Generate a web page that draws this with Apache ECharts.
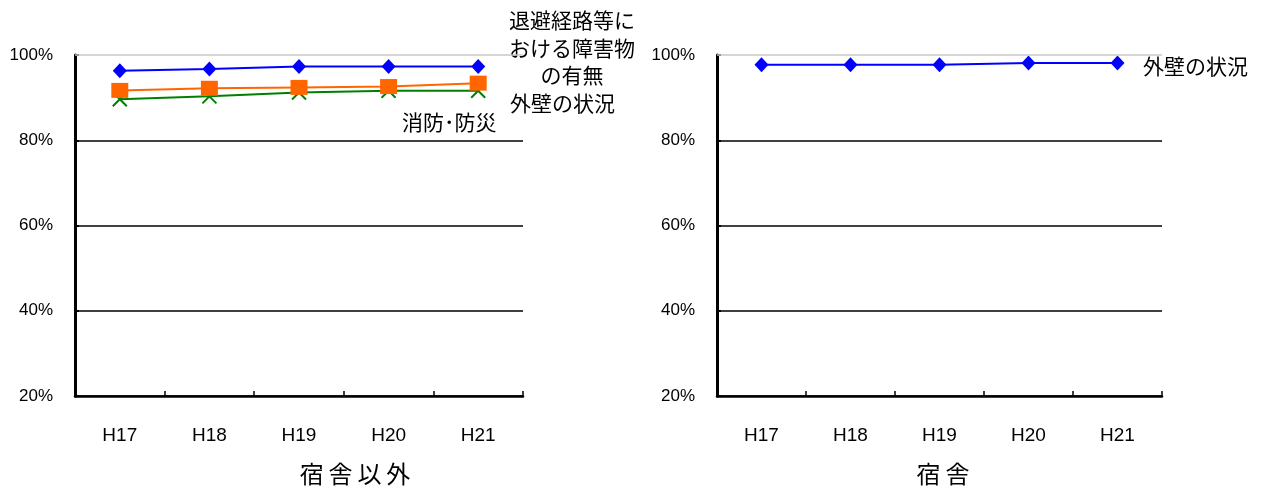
<!DOCTYPE html>
<html>
<head>
<meta charset="utf-8">
<script src="https://cdn.jsdelivr.net/npm/echarts@6/dist/echarts.min.js"></script>
<style>
  html, body { margin: 0; padding: 0; background: #fff; }
  #chart { width: 1263px; height: 488px; }
</style>
</head>
<body>
<div id="chart"></div>
<script>
// Fiscal years on the horizontal axis
const categories = ['H17', 'H18', 'H19', 'H20', 'H21'];

// Compliance rates (%), non-dormitory buildings
const outerWall = [96.3, 96.7, 97.3, 97.3, 97.3];     // 外壁の状況
const evacRoute = [91.7, 92.2, 92.4, 92.6, 93.4];     // 退避経路等における障害物の有無
const fireSafety = [89.6, 90.3, 91.2, 91.6, 91.6];    // 消防・防災

// Compliance rates (%), dormitories
const dormOuterWall = [97.7, 97.7, 97.7, 98.1, 98.1]; // 外壁の状況

// Series names and their on-chart labels
const seriesNames = ['外壁の状況', '退避経路等における障害物の有無', '消防・防災'];
const evacLabelLines = ['退避経路等に', 'おける障害物', 'の有無'];
const fireLabel = '消防･防災';

// Panel captions
const panelTitles = ['宿舎以外', '宿舎'];

// Value axis range
const yMin = 20, yMax = 100, yStep = 20;

const FONT = "'Liberation Sans', 'Noto Sans CJK JP', sans-serif";
const CJK = "'Noto Sans CJK JP', sans-serif";
const BLUE = '#0000FF', ORANGE = '#FF6600', GREEN = '#008000';
const crossPath = 'path://M0,0L10,10M10,0L0,10';

function spaced(s) { return s.split('').join('\u2009'); }

function xAxisFor(gridIndex) {
  return {
    type: 'category', gridIndex: gridIndex, data: categories, boundaryGap: true,
    axisLine: { lineStyle: { color: '#000', width: 2.5 } },
    axisTick: { show: true, inside: true, length: 5, interval: 0, lineStyle: { color: '#000', width: 1.5 } },
    axisLabel: { color: '#000', fontSize: 19, fontFamily: FONT, margin: 30, interval: 0 },
    splitLine: { show: false }
  };
}
function yAxisFor(gridIndex) {
  return {
    type: 'value', gridIndex: gridIndex, min: yMin, max: yMax, interval: yStep,
    axisLine: { show: true, lineStyle: { color: '#000', width: 3 } },
    axisTick: { show: true, inside: true, length: 4, lineStyle: { color: '#000', width: 2 } },
    axisLabel: { color: '#000', fontSize: 17, fontFamily: FONT, margin: 22, formatter: '{value}%' },
    splitLine: { show: true, showMaxLine: false, lineStyle: { color: '#000', width: 1.5 } }
  };
}
const topLine = {
  silent: true, symbol: 'none', label: { show: false },
  lineStyle: { color: '#c8c8c8', width: 1.5, type: 'solid' },
  data: [{ yAxis: yMax }]
};

const option = {
  animation: false,
  backgroundColor: '#fff',
  grid: [
    { left: 75, top: 55, width: 448, height: 341 },
    { left: 717, top: 55, width: 445, height: 341 }
  ],
  xAxis: [xAxisFor(0), xAxisFor(1)],
  yAxis: [yAxisFor(0), yAxisFor(1)],
  series: [
    {
      name: seriesNames[2], type: 'line', xAxisIndex: 0, yAxisIndex: 0, data: fireSafety,
      symbol: crossPath, symbolSize: 14,
      lineStyle: { color: GREEN, width: 2 },
      itemStyle: { color: GREEN, borderColor: GREEN, borderWidth: 2 },
      markLine: topLine
    },
    {
      name: seriesNames[1], type: 'line', xAxisIndex: 0, yAxisIndex: 0, data: evacRoute,
      symbol: 'rect', symbolSize: [17, 15],
      lineStyle: { color: ORANGE, width: 2 },
      itemStyle: { color: ORANGE }
    },
    {
      name: seriesNames[0], type: 'line', xAxisIndex: 0, yAxisIndex: 0, data: outerWall,
      symbol: 'diamond', symbolSize: [14, 15],
      lineStyle: { color: BLUE, width: 2 },
      itemStyle: { color: BLUE }
    },
    {
      name: seriesNames[0], type: 'line', xAxisIndex: 1, yAxisIndex: 1, data: dormOuterWall,
      symbol: 'diamond', symbolSize: [14, 15],
      lineStyle: { color: BLUE, width: 2 },
      itemStyle: { color: BLUE },
      markLine: topLine
    }
  ],
  graphic: [
    { type: 'text', x: 572, y: 48, style: { text: evacLabelLines.join('\n'), font: '21px ' + CJK, fill: '#000', textAlign: 'center', textVerticalAlign: 'middle', lineHeight: 27.5 } },
    { type: 'text', x: 510, y: 103, style: { text: seriesNames[0], font: '21px ' + CJK, fill: '#000', textAlign: 'left', textVerticalAlign: 'middle' } },
    { type: 'text', x: 402, y: 122, style: { text: fireLabel, font: '21px ' + CJK, fill: '#000', textAlign: 'left', textVerticalAlign: 'middle' } },
    { type: 'text', x: 1143, y: 66, style: { text: seriesNames[0], font: '21px ' + CJK, fill: '#000', textAlign: 'left', textVerticalAlign: 'middle' } },
    { type: 'text', x: 355, y: 474, style: { text: spaced(panelTitles[0]), font: '24px ' + CJK, fill: '#000', textAlign: 'center', textVerticalAlign: 'middle' } },
    { type: 'text', x: 943, y: 474, style: { text: spaced(panelTitles[1]), font: '24px ' + CJK, fill: '#000', textAlign: 'center', textVerticalAlign: 'middle' } }
  ]
};

const chart = echarts.init(document.getElementById('chart'), null, { renderer: 'canvas' });
chart.setOption(option);
</script>
</body>
</html>
